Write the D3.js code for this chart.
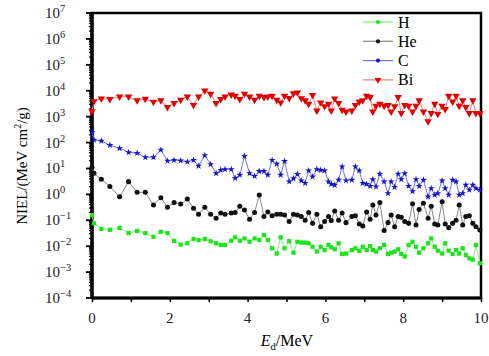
<!DOCTYPE html>
<html>
<head>
<meta charset="utf-8">
<script src="https://cdn.jsdelivr.net/npm/d3@7"></script>
<style>
  body { margin: 0; background: #fff; }
</style>
</head>
<body>
<div id="chart"></div>
<script>
// E_d values (MeV), shared by all ions
const energy = [
  0, 0.05, 0.24, 0.46, 0.71, 0.94, 1.16, 1.37, 1.58, 1.77, 1.94, 2.11, 2.28, 2.45, 2.61, 2.74, 2.90, 3.05, 3.19,
  3.31, 3.42, 3.58, 3.68, 3.80, 3.92, 4.05, 4.18, 4.30, 4.42, 4.52, 4.63, 4.75, 4.85, 4.95, 5.07, 5.18, 5.28, 5.38, 5.48,
  5.57, 5.67, 5.78, 5.88, 5.98, 6.08, 6.15, 6.24, 6.34, 6.43, 6.53,
  6.68, 6.77, 6.87, 6.96, 7.06, 7.15, 7.22, 7.30, 7.40, 7.51, 7.61, 7.69, 7.78, 7.87, 7.95, 8.04, 8.14, 8.24, 8.33, 8.41,
  8.52, 8.64, 8.72, 8.81, 8.89, 9.00, 9.08, 9.17, 9.27, 9.36, 9.44, 9.53, 9.61, 9.70, 9.79, 9.87, 9.97
];

const nielH = [
  0.16, 0.076, 0.046, 0.043, 0.051, 0.032, 0.039, 0.032, 0.023, 0.036, 0.032, 0.016, 0.0115, 0.013, 0.019, 0.017, 0.019, 0.0155, 0.013,
  0.0112, 0.0112, 0.0162, 0.0219, 0.0162, 0.020, 0.0148, 0.020, 0.0174, 0.027, 0.0174, 0.0083, 0.0052, 0.0219, 0.0083, 0.0157, 0.0056, 0.0148, 0.0138, 0.0138,
  0.0129, 0.0095, 0.0062, 0.0095, 0.0071, 0.0112, 0.0091, 0.0076, 0.0129, 0.0050, 0.0052,
  0.0071, 0.0083, 0.0067, 0.0095, 0.0071, 0.0101, 0.0071, 0.0062, 0.0083, 0.0112, 0.0050, 0.0056, 0.0062, 0.0076, 0.0050, 0.0040, 0.0112, 0.0148, 0.0095, 0.0056,
  0.0083, 0.0129, 0.020, 0.0095, 0.0067, 0.0052, 0.0129, 0.0067, 0.0050, 0.0071, 0.0052, 0.0083, 0.0046, 0.0034, 0.0030, 0.0112, 0.0022
];

const nielHe = [
  11, 6.5, 3.8, 2.0, 0.81, 3.1, 1.2, 1.2, 0.39, 0.74, 0.32, 0.48, 0.42, 0.66, 0.29, 0.17, 0.32, 0.17, 0.12,
  0.19, 0.17, 0.19, 0.20, 0.35, 0.25, 0.11, 0.20, 0.95, 0.14, 0.21, 0.15, 0.17, 0.17, 0.16, 0.089, 0.17, 0.16, 0.14, 0.10,
  0.20, 0.076, 0.17, 0.056, 0.089, 0.14, 0.098, 0.23, 0.10, 0.19, 0.081,
  0.14, 0.15, 0.072, 0.060, 0.21, 0.11, 0.39, 0.16, 0.48, 0.040, 0.081, 0.16, 0.056, 0.14, 0.13, 0.089, 0.076, 0.43, 0.066, 0.26,
  0.45, 0.12, 0.35, 0.072, 0.066, 0.52, 0.072, 0.052, 0.076, 0.10, 0.39, 0.066, 0.14, 0.15, 0.076, 0.056, 0.042
];

const nielC = [
  240, 126, 115, 79, 60, 42, 39, 27, 27, 52, 19.5, 21, 20, 18, 21, 12.5, 32, 14.5, 6.5,
  8.7, 9.3, 9.3, 4.2, 5.6, 30, 6.5, 5.1, 7.8, 7.8, 5.6, 21, 15, 5.6, 19, 3.1, 4.1, 6.0, 3.4, 2.7,
  8.3, 4.8, 9.3, 8.7, 8.3, 3.1, 2.5, 2.3, 3.6, 11.7, 3.4,
  3.6, 11.7, 8.3, 2.7, 2.5, 2.1, 3.8, 2.0, 6.2, 3.1, 1.1, 3.1, 1.9, 6.2, 3.8, 6.5, 2.1, 1.3, 3.8, 2.1,
  3.6, 0.81, 1.7, 0.95, 1.1, 3.4, 1.7, 0.95, 3.6, 3.1, 0.95, 1.1, 2.3, 1.5, 2.3, 1.7, 1.5
];

const nielBi = [
  1600, 3900, 5000, 4700, 5900, 5900, 4200, 4800, 3700, 4200, 2300, 3300, 4400, 5900, 2800, 5900, 10000, 7500, 3300,
  4700, 5900, 7100, 6300, 4700, 7600, 5900, 4400, 6300, 5600, 5900, 6300, 4400, 3500, 6300, 5200, 7900, 8500, 5100, 4200,
  3100, 6800, 1700, 3500, 2500, 3100, 1700, 5000, 3300, 1800, 1550,
  1700, 2800, 3800, 4200, 6300, 5600, 1550, 2600, 3100, 2600, 2800, 1550, 2500, 5600, 1350, 2800, 2600, 1550, 2600, 4200,
  1550, 650, 1350, 3100, 1260, 2600, 1950, 6300, 3800, 6300, 2600, 4200, 2300, 1350, 4200, 1350, 1350
];

const seriesNames = ['H', 'He', 'C', 'Bi'];
const yExponents = [-4, -3, -2, -1, 0, 1, 2, 3, 4, 5, 6, 7];
const xTicks = [0, 2, 4, 6, 8, 10];

const width = 489;
const height = 356;
const margin = { left: 92, right: 8, top: 13, bottom: 58 };
const serif = "'Liberation Serif', 'Times New Roman', 'DejaVu Serif', serif";

const svg = d3.select('#chart')
  .append('svg')
  .attr('width', width)
  .attr('height', height)
  .attr('font-family', serif)
  .style('font-family', serif);

const x = d3.scaleLinear()
  .domain([0, 10])
  .range([margin.left, width - margin.right]);

const y = d3.scaleLog()
  .domain([1e-4, 1e7])
  .range([height - margin.bottom, margin.top]);

const styles = {
  H:  { marker: '#19e619', line: '#7cf07c', symbol: d3.symbolSquare, size: 18 },
  He: { marker: '#111', line: '#888', symbol: d3.symbolCircle, size: 20 },
  C:  { marker: '#1414c8', line: '#6f74e8', symbol: d3.symbolStar, size: 15 },
  Bi: { marker: '#e00000', line: '#f07c7c', symbol: d3.symbolTriangle, size: 24 }
};

const series = [
  { name: 'H', values: nielH },
  { name: 'He', values: nielHe },
  { name: 'C', values: nielC },
  { name: 'Bi', values: nielBi }
];

// axes
const xAxis = d3.axisBottom(x)
  .tickValues(d3.range(0, 11, 1))
  .tickSize(4)
  .tickFormat('');

svg.append('g')
  .attr('transform', `translate(0,${height - margin.bottom})`)
  .call(xAxis)
  .call(g => g.select('.domain').remove())
  .call(g => g.selectAll('line').attr('stroke-width', 1.5));

svg.append('g')
  .selectAll('text')
  .data(xTicks)
  .enter()
  .append('text')
  .attr('x', d => x(d))
  .attr('y', 323)
  .attr('text-anchor', 'middle')
  .attr('font-size', 15)
  .attr('fill', '#222')
  .text(d => d);

// log minor ticks
const minorTicks = [];
yExponents.slice(0, -1).forEach(e => {
  for (let k = 2; k <= 9; k++) minorTicks.push(k * Math.pow(10, e));
});

const yAxisG = svg.append('g');
yAxisG.selectAll('.minor')
  .data(minorTicks)
  .enter()
  .append('line')
  .attr('x1', margin.left - 3)
  .attr('x2', margin.left)
  .attr('y1', d => y(d))
  .attr('y2', d => y(d))
  .attr('stroke', '#000')
  .attr('stroke-width', 1.2);

yAxisG.selectAll('.major')
  .data(yExponents)
  .enter()
  .append('line')
  .attr('x1', margin.left - 6)
  .attr('x2', margin.left)
  .attr('y1', d => y(Math.pow(10, d)))
  .attr('y2', d => y(Math.pow(10, d)))
  .attr('stroke', '#000')
  .attr('stroke-width', 1.8);

const yLabels = yAxisG.selectAll('.ylab')
  .data(yExponents)
  .enter()
  .append('text')
  .attr('x', 45)
  .attr('y', d => y(Math.pow(10, d)) + 5)
  .attr('font-size', 15)
  .attr('fill', '#222');

yLabels.append('tspan').text('10');
yLabels.append('tspan')
  .attr('dy', -6)
  .attr('font-size', 10.5)
  .text(d => String(d).replace('-', '\u2212'));

// frame
svg.append('rect')
  .attr('x', margin.left)
  .attr('y', margin.top)
  .attr('width', width - margin.right - margin.left)
  .attr('height', height - margin.bottom - margin.top)
  .attr('fill', 'none')
  .attr('stroke', '#000')
  .attr('stroke-width', 2.5);

svg.append('line')
  .attr('x1', margin.left).attr('x2', margin.left)
  .attr('y1', margin.top).attr('y2', height - margin.bottom)
  .attr('stroke', '#000').attr('stroke-width', 3.5);

svg.append('line')
  .attr('x1', margin.left).attr('x2', width - margin.right)
  .attr('y1', height - margin.bottom).attr('y2', height - margin.bottom)
  .attr('stroke', '#000').attr('stroke-width', 3);

// series lines and markers
const line = d3.line()
  .x((d, i) => x(energy[i]))
  .y(d => y(d));

series.forEach(s => {
  const st = styles[s.name];
  const g = svg.append('g').attr('class', 'series-' + s.name);

  g.append('path')
    .datum(s.values)
    .attr('d', line)
    .attr('fill', 'none')
    .attr('stroke', st.line)
    .attr('stroke-width', 1);

  g.selectAll('path.pt')
    .data(s.values)
    .enter()
    .append('path')
    .attr('class', 'pt')
    .attr('d', d3.symbol().type(st.symbol).size(st.size))
    .attr('transform', (d, i) => `translate(${x(energy[i])},${y(d)})` + (s.name === 'Bi' ? ' rotate(180)' : ''))
    .attr('fill', st.marker);
});

// legend
const legend = svg.append('g').attr('transform', 'translate(363,22)');
seriesNames.forEach((name, i) => {
  const st = styles[name];
  const row = legend.append('g').attr('transform', `translate(0,${i * 19.3})`);
  row.append('line')
    .attr('x1', 0).attr('x2', 30)
    .attr('stroke', st.line).attr('stroke-width', 1.2);
  row.append('path')
    .attr('d', d3.symbol().type(name === 'Bi' ? d3.symbolTriangle : d3.symbolCircle).size(name === 'Bi' ? 20 : 14))
    .attr('transform', 'translate(15,0)' + (name === 'Bi' ? ' rotate(180)' : ''))
    .attr('fill', st.marker);
  row.append('text')
    .attr('x', 35)
    .attr('y', 5.5)
    .attr('font-size', 16)
    .text(name);
});

// axis titles
const yTitle = svg.append('text')
  .attr('transform', 'translate(27,166) rotate(-90)')
  .attr('text-anchor', 'middle')
  .attr('font-size', 15);
yTitle.append('tspan').text('NIEL/(MeV cm');
yTitle.append('tspan').attr('dy', -6).attr('font-size', 10).text('2');
yTitle.append('tspan').attr('dy', 6).text('/g)');

const xTitle = svg.append('text')
  .attr('x', 287)
  .attr('y', 346)
  .attr('text-anchor', 'middle')
  .attr('font-size', 16);
xTitle.append('tspan').attr('font-style', 'italic').text('E');
xTitle.append('tspan').attr('dy', 4).attr('font-size', 10.5).text('d');
xTitle.append('tspan').attr('dy', -4).text('/MeV');
</script>
</body>
</html>
